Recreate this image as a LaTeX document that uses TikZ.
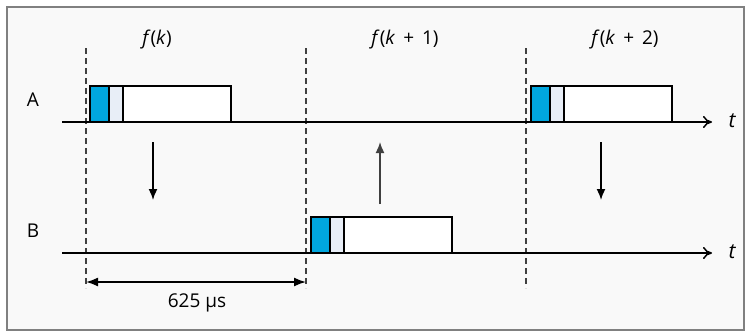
\documentclass[tikz,border=0pt]{standalone}
\usepackage{fontspec}
\setmainfont{Open Sans}
\usetikzlibrary{arrows.meta}
\definecolor{bblue}{HTML}{00A6DE}
\definecolor{lblue}{HTML}{E8EEF7}
\definecolor{bg}{HTML}{F9F9F9}
\tikzset{
  lbl/.style={font=\fontsize{19}{22}\selectfont, inner sep=0pt},
  axis/.style={line width=1.5pt, -{To[length=9pt,width=12pt]}},
  guide/.style={line width=1.5pt, dash pattern=on 6pt off 4pt, black!75},
  msg/.style={line width=1.6pt, -{Latex[length=11pt,width=9pt]}},
  pkt/.style={draw, line width=1.5pt},
}
\begin{document}
\begin{tikzpicture}[x=1pt,y=-1pt]
\useasboundingbox (0,0) rectangle (749,332);
\draw[gray, line width=2pt, fill=bg] (7,7) rectangle (744,330);
% guides
\foreach \n/\x in {g1/86,g2/306,g3/526}{
  \coordinate (\n t) at (\x,48);
  \coordinate (\n b) at (\x,288);
  \draw[guide] (\n t) -- (\n b);
}
% axes
\coordinate (as) at (62,122); \coordinate (ae) at (712,122);
\coordinate (bs) at (62,253); \coordinate (be) at (712,253);
% packets
\foreach \n/\x/\y in {p1/90/122,p2/311/253,p3/531/122}{
  \draw[pkt, fill=bblue] (\x,\y) rectangle ++(19,-36);
  \draw[pkt, fill=lblue] (\x+19,\y) rectangle ++(14,-36);
  \draw[pkt, fill=white] (\x+33,\y) rectangle ++(108,-36);
}
\draw[axis] (as) -- (ae);
\draw[axis] (bs) -- (be);
\node[lbl, font=\fontsize{21}{24}\selectfont\itshape] (ta) at (732,121) {t};
\node[lbl, font=\fontsize{21}{24}\selectfont\itshape] (tb) at (732,252) {t};
\node[lbl] (A) at (33,100) {A};
\node[lbl] (B) at (33,231) {B};
\node[lbl] (f1) at (157,40) {\textit{f}(\textit{k})};
\node[lbl] (f2) at (405,40) {\textit{f}(\textit{k}\hspace{3pt} +\hspace{3pt} 1)};
\node[lbl] (f3) at (625,40) {\textit{f}(\textit{k}\hspace{3pt} +\hspace{3pt} 2)};
% messages
\coordinate (m1a) at (153,142); \coordinate (m1b) at (153,200);
\coordinate (m2a) at (380,204); \coordinate (m2b) at (380,142);
\coordinate (m3a) at (601,142); \coordinate (m3b) at (601,200);
\draw[msg] (m1a) -- (m1b);
\draw[msg, black!75] (m2a) -- (m2b);
\draw[msg] (m3a) -- (m3b);
% interval
\draw[line width=1.6pt, {Latex[length=12pt,width=9pt]}-{Latex[length=12pt,width=9pt]}] (g1b |- 0,282) -- (g2b |- 0,282);
\node[lbl] (T) at (197,303) {625 µs};
\end{tikzpicture}
\end{document}
